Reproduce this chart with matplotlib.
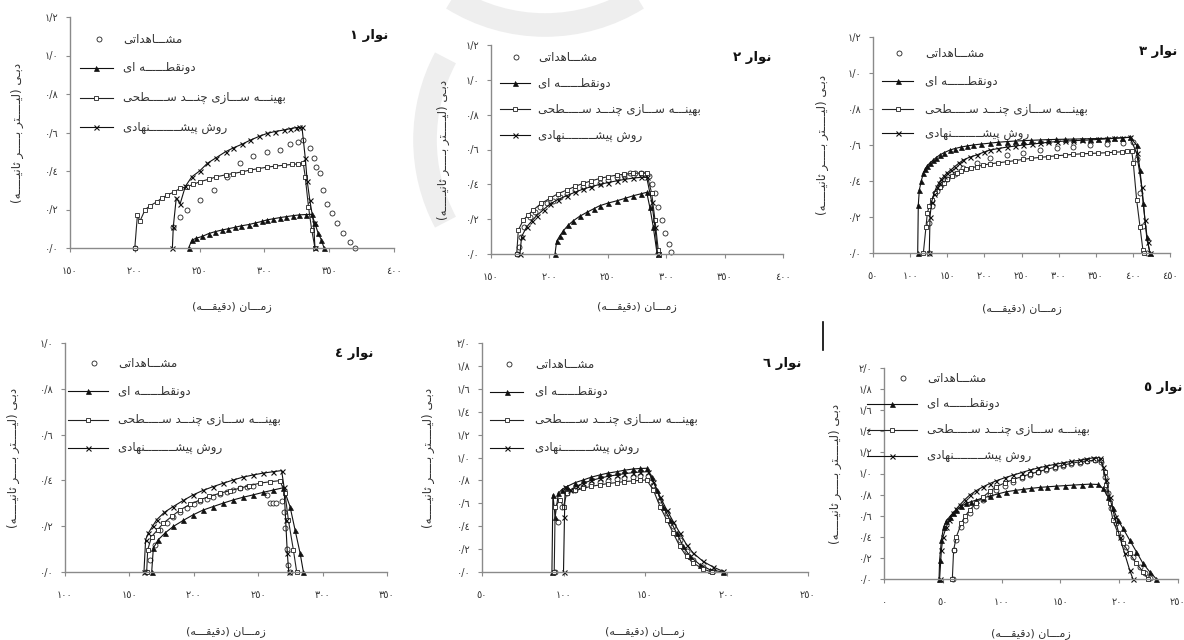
import matplotlib
matplotlib.use("Agg")
import matplotlib.pyplot as plt
from matplotlib.lines import Line2D
from matplotlib.patches import Arc
from matplotlib.transforms import IdentityTransform

plt.rcParams['font.family'] = ['DejaVu Sans']

W, H = 1184, 640

# ------------------ TEXT ------------------
legend_labels = ['مشـــاهداتی', 'دونقطــــــه ای', 'بهینـــه ســـازی چنـــد ســـــطحی', 'روش پیشـــــــــنهادی']
panel_titles = ['نوار ١', 'نوار ٢', 'نوار ٣', 'نوار ٤', 'نوار ٦', 'نوار ٥']
x_label = 'زمـــان (دقیقـــه)'
y_label = 'دبـی (لیـــــتر بـــــر ثانیـــــه)'

# ------------------ DATA (time in min, discharge in l/s) ------------------
# strip 1
p1_obs_x = [200, 229.7, 235, 240, 250, 261, 271, 281, 291.5, 302, 312, 320, 326, 330, 335, 338, 340, 343, 345.5, 348, 352, 356, 361, 366, 370]
p1_obs_y = [0, 0.11, 0.16, 0.20, 0.25, 0.30, 0.37, 0.44, 0.48, 0.50, 0.51, 0.54, 0.55, 0.56, 0.52, 0.47, 0.42, 0.39, 0.30, 0.23, 0.18, 0.13, 0.08, 0.03, 0.0]
p1_two_x = [241.5, 244, 247, 252, 257, 262, 267, 272, 277, 282, 288, 293, 298, 302, 307, 312, 317, 322, 327, 332, 336.5, 339, 341.5, 344, 346]
p1_two_y = [0, 0.04, 0.05, 0.06, 0.075, 0.085, 0.093, 0.10, 0.107, 0.115, 0.122, 0.13, 0.138, 0.146, 0.152, 0.158, 0.163, 0.168, 0.172, 0.174, 0.175, 0.128, 0.076, 0.042, 0]
p1_multi_x = [200, 202, 204, 208, 212, 217, 221, 225, 230, 235, 240, 245, 250, 257, 263, 270, 276, 283, 289, 295, 302, 308, 315, 321, 326, 330, 331.5, 334, 336.5, 339]
p1_multi_y = [0, 0.17, 0.14, 0.20, 0.22, 0.24, 0.26, 0.275, 0.29, 0.31, 0.318, 0.33, 0.344, 0.357, 0.37, 0.38, 0.387, 0.396, 0.405, 0.412, 0.42, 0.425, 0.43, 0.434, 0.437, 0.44, 0.37, 0.215, 0.094, 0]
p1_prop_x = [229, 229.7, 232, 235, 239, 244, 250, 256, 263, 270, 276, 283, 289, 296, 302, 308, 315, 320, 324, 327, 329, 331.5, 333, 335, 338, 339]
p1_prop_y = [0, 0.11, 0.26, 0.23, 0.32, 0.37, 0.40, 0.44, 0.47, 0.50, 0.52, 0.54, 0.56, 0.58, 0.595, 0.605, 0.613, 0.62, 0.625, 0.627, 0.627, 0.47, 0.35, 0.25, 0.13, 0]

# strip 2
p2_obs_x = [172, 174.3, 176, 178, 183, 188, 192, 198, 203, 209, 215, 222, 229, 236, 243, 250, 258, 264, 269, 273, 278, 282, 285, 287.5, 290, 293, 296, 299, 302, 304.5]
p2_obs_y = [0, 0.04, 0.10, 0.155, 0.21, 0.24, 0.267, 0.29, 0.306, 0.325, 0.345, 0.365, 0.383, 0.397, 0.41, 0.425, 0.44, 0.455, 0.467, 0.467, 0.467, 0.46, 0.45, 0.40, 0.35, 0.27, 0.195, 0.12, 0.06, 0.01]
p2_two_x = [204.8, 206.2, 209, 212, 216, 220.5, 226, 232, 238, 243, 250, 258, 265, 272, 278, 283.3, 286, 289, 291.8, 293.2]
p2_two_y = [0, 0.073, 0.105, 0.134, 0.165, 0.191, 0.217, 0.239, 0.26, 0.277, 0.292, 0.306, 0.32, 0.335, 0.345, 0.354, 0.268, 0.153, 0.02, 0]
p2_multi_x = [172, 173.4, 177.7, 182, 186.2, 193, 200.5, 207, 214.8, 222, 229, 236, 243.3, 250, 257.6, 264, 271.8, 278, 283.3, 287.6, 290.4, 293.2, 294]
p2_multi_y = [0, 0.138, 0.195, 0.225, 0.253, 0.29, 0.32, 0.345, 0.367, 0.388, 0.406, 0.42, 0.434, 0.444, 0.453, 0.458, 0.463, 0.465, 0.463, 0.348, 0.195, 0.023, 0]
p2_prop_x = [174.8, 176.2, 180.5, 185, 189, 195, 200.5, 207, 214.8, 222, 229, 236, 243.3, 250, 257.6, 264, 271.8, 278, 283.3, 287.6, 290.4, 292.6]
p2_prop_y = [0, 0.10, 0.155, 0.19, 0.22, 0.255, 0.287, 0.312, 0.335, 0.355, 0.373, 0.387, 0.40, 0.41, 0.42, 0.428, 0.436, 0.44, 0.44, 0.30, 0.155, 0]

# strip 3
p3_obs_x = [124.8, 125.8, 129, 135.8, 142, 149.3, 160, 171.6, 190, 207.6, 230, 252.5, 275, 297.4, 320, 342.3, 365, 387.2, 400.6, 405.1, 409.6, 414, 419.4]
p3_obs_y = [0, 0.167, 0.259, 0.343, 0.38, 0.41, 0.44, 0.47, 0.50, 0.526, 0.543, 0.557, 0.57, 0.581, 0.59, 0.60, 0.607, 0.613, 0.619, 0.52, 0.333, 0.148, 0]
p3_two_x = [110.2, 111, 112.4, 115, 117.8, 120, 123, 127, 131.3, 135, 140, 146, 153.7, 160, 168, 176, 185, 195, 207, 218, 230, 241, 252, 263, 275, 286, 297, 308, 320, 331, 342, 353, 365, 375, 385, 396, 405, 409.6, 414, 418.6, 423]
p3_two_y = [0, 0.267, 0.35, 0.40, 0.443, 0.466, 0.485, 0.502, 0.517, 0.53, 0.545, 0.558, 0.572, 0.58, 0.588, 0.594, 0.60, 0.605, 0.61, 0.615, 0.619, 0.622, 0.624, 0.626, 0.628, 0.63, 0.631, 0.632, 0.633, 0.634, 0.635, 0.636, 0.637, 0.638, 0.64, 0.643, 0.60, 0.461, 0.276, 0.09, 0]
p3_multi_x = [117.8, 121.4, 123.2, 126, 129, 134, 140.2, 145, 150, 156, 162.7, 169, 175, 182, 189.6, 198, 207, 218, 230, 241, 252, 263, 274.9, 286, 297, 308, 319.8, 331, 342, 353, 364.7, 375, 385, 392, 398.4, 400.6, 405.1, 409.6, 413.5, 414.6]
p3_multi_y = [0, 0.146, 0.224, 0.262, 0.294, 0.335, 0.369, 0.39, 0.41, 0.427, 0.443, 0.455, 0.465, 0.473, 0.48, 0.488, 0.495, 0.501, 0.507, 0.513, 0.52, 0.526, 0.531, 0.536, 0.54, 0.544, 0.548, 0.551, 0.553, 0.555, 0.557, 0.56, 0.562, 0.565, 0.567, 0.498, 0.294, 0.146, 0.017, 0]
p3_prop_x = [125.8, 126.8, 129, 132, 135.8, 139, 142, 146, 149.3, 155, 160, 166, 171.6, 180, 190, 199, 207.6, 218, 230, 241, 252.5, 264, 275, 286, 297.4, 309, 320, 331, 342.3, 353, 365, 375, 385, 396, 405, 412, 416.3, 420, 423]
p3_prop_y = [0, 0.202, 0.285, 0.33, 0.369, 0.39, 0.41, 0.428, 0.443, 0.462, 0.48, 0.5, 0.517, 0.532, 0.545, 0.56, 0.572, 0.58, 0.588, 0.594, 0.60, 0.605, 0.61, 0.615, 0.619, 0.622, 0.624, 0.626, 0.628, 0.631, 0.634, 0.637, 0.64, 0.643, 0.556, 0.369, 0.183, 0.06, 0]

# strip 4
p4_obs_x = [163, 166, 170, 173.8, 179, 184.1, 189, 194.5, 200, 204.8, 210, 215.1, 220, 225.5, 230.7, 235.9, 241, 246.2, 256.6, 259, 261.7, 264, 268.2, 270, 270.8, 272.1, 273.4, 274.7]
p4_obs_y = [0, 0.054, 0.12, 0.184, 0.215, 0.242, 0.262, 0.279, 0.295, 0.308, 0.32, 0.329, 0.34, 0.351, 0.358, 0.366, 0.372, 0.377, 0.337, 0.30, 0.30, 0.30, 0.31, 0.264, 0.19, 0.10, 0.03, 0]
p4_two_x = [167.3, 168.6, 172.4, 178, 184.1, 192, 199.6, 207, 215.1, 223, 230.7, 238, 246.2, 254, 261.7, 269.5, 274.7, 278.6, 282.5, 285.1]
p4_two_y = [0, 0.105, 0.141, 0.172, 0.199, 0.226, 0.25, 0.27, 0.286, 0.301, 0.315, 0.326, 0.337, 0.348, 0.358, 0.368, 0.286, 0.184, 0.083, 0]
p4_multi_x = [163.4, 164.2, 167.3, 172, 176.3, 183, 189.3, 197, 204.8, 212, 220.3, 228, 235.9, 243, 251.4, 259, 266.9, 270.8, 273.4, 277.3, 279.9]
p4_multi_y = [0, 0.097, 0.155, 0.185, 0.213, 0.243, 0.271, 0.295, 0.315, 0.33, 0.344, 0.355, 0.366, 0.377, 0.388, 0.394, 0.399, 0.344, 0.228, 0.097, 0]
p4_prop_x = [161.3, 162.6, 164.7, 168, 171.2, 177, 184.1, 192, 199.6, 207, 215.1, 223, 230.7, 238, 246.2, 254, 261.7, 268.2, 270, 271.3, 272.6, 273.7]
p4_prop_y = [0, 0.141, 0.17, 0.20, 0.228, 0.26, 0.286, 0.313, 0.337, 0.356, 0.373, 0.388, 0.402, 0.414, 0.424, 0.432, 0.438, 0.443, 0.373, 0.228, 0.083, 0]

# strip 6
p6_obs_x = [95, 96.9, 99, 102, 107, 112.2, 117, 122.4, 127, 132.6, 137, 142.8, 147, 152, 155.1, 159.2, 163.3, 167.3, 171.4, 175.5, 179.6, 185.7, 191.8]
p6_obs_y = [0, 0.441, 0.572, 0.688, 0.72, 0.746, 0.766, 0.784, 0.798, 0.81, 0.822, 0.833, 0.837, 0.84, 0.76, 0.63, 0.514, 0.398, 0.282, 0.18, 0.107, 0.044, 0.006]
p6_two_x = [92.9, 93.5, 94.9, 96.9, 99, 102, 107, 112.2, 117, 122.4, 127, 132.6, 137, 142.8, 147, 151, 154.1, 157.2, 161.2, 165.3, 169.4, 173.5, 177.6, 183.7, 189.8, 197.8]
p6_two_y = [0, 0.673, 0.484, 0.69, 0.72, 0.746, 0.78, 0.804, 0.828, 0.848, 0.863, 0.876, 0.888, 0.90, 0.904, 0.906, 0.833, 0.717, 0.572, 0.456, 0.34, 0.223, 0.136, 0.064, 0.02, 0]
p6_multi_x = [94.3, 94.9, 97.9, 100, 102, 107, 112.2, 117, 122.4, 127, 132.6, 137, 142.8, 147, 151, 155.1, 159.2, 163.3, 167.3, 171.4, 175.5, 179.6, 185.7, 190.8]
p6_multi_y = [0, 0.572, 0.63, 0.572, 0.688, 0.712, 0.732, 0.748, 0.761, 0.772, 0.781, 0.789, 0.796, 0.80, 0.804, 0.717, 0.572, 0.456, 0.34, 0.223, 0.136, 0.078, 0.026, 0]
p6_prop_x = [100, 100.6, 101, 104.1, 108, 112.2, 117, 122.4, 127, 132.6, 137, 142.8, 147, 152, 155.1, 159.2, 163.3, 167.3, 171.4, 175.5, 179.6, 185.7, 191.8, 197.9]
p6_prop_y = [0, 0.484, 0.746, 0.717, 0.75, 0.775, 0.80, 0.819, 0.835, 0.848, 0.858, 0.868, 0.873, 0.876, 0.79, 0.659, 0.543, 0.441, 0.34, 0.238, 0.165, 0.092, 0.044, 0.005]

# strip 5
p5_obs_x = [58.7, 59.5, 61.5, 65.8, 69, 72.8, 78.5, 84.2, 90, 95.5, 102.5, 109.7, 117, 123.9, 131, 138, 145, 152.2, 159, 166.4, 173, 179.1, 184.8, 187.6, 190.5, 193.3, 197.6, 201.8, 206.1, 211.7, 217.4, 221.7, 225.9]
p5_obs_y = [0, 0.274, 0.369, 0.495, 0.56, 0.621, 0.69, 0.748, 0.8, 0.842, 0.885, 0.921, 0.955, 0.984, 1.01, 1.032, 1.052, 1.07, 1.086, 1.101, 1.117, 1.132, 1.11, 0.968, 0.811, 0.669, 0.527, 0.4, 0.306, 0.211, 0.117, 0.054, 0.006]
p5_two_x = [46.8, 47.3, 48.8, 50.7, 53, 55.8, 58.5, 61.5, 65.5, 70, 74, 78.5, 84, 89.9, 97, 104, 111, 118.2, 125, 132.4, 139, 146.5, 153.5, 160.7, 168, 174.9, 182, 186.2, 190.5, 194.7, 199, 203.2, 208.9, 214.6, 220.2, 225.9, 231.6]
p5_two_y = [0, 0.18, 0.369, 0.495, 0.55, 0.59, 0.625, 0.653, 0.688, 0.716, 0.733, 0.748, 0.768, 0.785, 0.807, 0.827, 0.839, 0.849, 0.859, 0.868, 0.874, 0.88, 0.885, 0.89, 0.895, 0.899, 0.896, 0.858, 0.779, 0.669, 0.558, 0.48, 0.369, 0.259, 0.148, 0.069, 0]
p5_multi_x = [58.1, 59.2, 61.5, 65.8, 69, 72.8, 78.5, 84.2, 90, 95.5, 102.5, 109.7, 117, 123.9, 131, 138, 145, 152.2, 159, 166.4, 173, 179.1, 184.8, 187.6, 189, 191.9, 194.7, 199, 203.2, 208.9, 214.6, 220.2, 224.5]
p5_multi_y = [0, 0.274, 0.4, 0.527, 0.595, 0.653, 0.72, 0.779, 0.83, 0.874, 0.91, 0.943, 0.97, 0.994, 1.017, 1.038, 1.059, 1.079, 1.096, 1.111, 1.12, 1.126, 1.126, 1.016, 0.89, 0.716, 0.558, 0.432, 0.338, 0.243, 0.148, 0.069, 0]
p5_prop_x = [47.3, 48.8, 50.2, 53, 55.5, 58.7, 61.5, 64.3, 68.5, 72.8, 78.5, 84.2, 90, 95.5, 102.5, 109.7, 117, 123.9, 131, 138, 145, 152.2, 159, 166.4, 172, 177.7, 183.4, 186.2, 189, 191.9, 196.1, 200.4, 204.6, 208.9, 211.7]
p5_prop_y = [0, 0.274, 0.4, 0.495, 0.56, 0.621, 0.665, 0.70, 0.75, 0.795, 0.838, 0.874, 0.905, 0.931, 0.959, 0.984, 1.009, 1.032, 1.052, 1.07, 1.086, 1.101, 1.114, 1.126, 1.138, 1.148, 1.151, 1.063, 0.937, 0.779, 0.59, 0.4, 0.243, 0.085, 0]

# ------------------ persian text shaping (no bidi lib available) ------------------
FORMS = {  # isolated, final, initial, medial
    'ا': ('\uFE8D', '\uFE8E', None, None),
    'ب': ('\uFE8F', '\uFE90', '\uFE91', '\uFE92'),
    'پ': ('\uFB56', '\uFB57', '\uFB58', '\uFB59'),
    'ت': ('\uFE95', '\uFE96', '\uFE97', '\uFE98'),
    'ث': ('\uFE99', '\uFE9A', '\uFE9B', '\uFE9C'),
    'چ': ('\uFB7A', '\uFB7B', '\uFB7C', '\uFB7D'),
    'ح': ('\uFEA1', '\uFEA2', '\uFEA3', '\uFEA4'),
    'د': ('\uFEA9', '\uFEAA', None, None),
    'ر': ('\uFEAD', '\uFEAE', None, None),
    'ز': ('\uFEAF', '\uFEB0', None, None),
    'س': ('\uFEB1', '\uFEB2', '\uFEB3', '\uFEB4'),
    'ش': ('\uFEB5', '\uFEB6', '\uFEB7', '\uFEB8'),
    'ط': ('\uFEC1', '\uFEC2', '\uFEC3', '\uFEC4'),
    'ق': ('\uFED5', '\uFED6', '\uFED7', '\uFED8'),
    'ل': ('\uFEDD', '\uFEDE', '\uFEDF', '\uFEE0'),
    'م': ('\uFEE1', '\uFEE2', '\uFEE3', '\uFEE4'),
    'ن': ('\uFEE5', '\uFEE6', '\uFEE7', '\uFEE8'),
    'ه': ('\uFEE9', '\uFEEA', '\uFEEB', '\uFEEC'),
    'و': ('\uFEED', '\uFEEE', None, None),
    'ی': ('\uFEEF', '\uFEF0', '\uFEF3', '\uFEF4'),
}
TATWEEL = 'ـ'


def rtl(s):
    out = []
    for i, c in enumerate(s):
        if c not in FORMS:
            out.append(c)
            continue
        prev = s[i - 1] if i > 0 else ''
        nxt = s[i + 1] if i + 1 < len(s) else ''
        join_prev = prev == TATWEEL or (prev in FORMS and FORMS[prev][2] is not None)
        join_next = FORMS[c][2] is not None and (nxt == TATWEEL or nxt in FORMS)
        iso, fin, ini, med = FORMS[c]
        if join_prev and join_next:
            out.append(med)
        elif join_prev:
            out.append(fin)
        elif join_next:
            out.append(ini)
        else:
            out.append(iso)
    vis = ''.join(out)[::-1]
    return vis.translate(str.maketrans('()', ')('))


AR_DIGITS = str.maketrans('0123456789.', '٠١٢٣٤٥٦٧٨٩/')


def fa_num(v, dec):
    return (f"{v:.{dec}f}").translate(AR_DIGITS)


# ------------------ LAYOUT (pixels) ------------------
# left, top, right, bottom, xmin, xmax, ymax
boxes = [
    (70, 17, 394, 248, 150, 400, 1.2),
    (491, 45, 783, 254, 150, 400, 1.2),
    (873, 37, 1170, 253, 50, 450, 1.2),
    (65, 343, 387, 572, 100, 350, 1.0),
    (482, 343, 808, 572, 50, 250, 2.0),
    (884, 368, 1178, 579, 0, 250, 2.0),
]
# legend: line start, line end, text x, entry y's
legends = [
    (80, 113, 123, [39, 68, 98, 127]),
    (500, 530, 538, [57, 83, 109, 135]),
    (882, 913, 925, [53, 81, 109, 133]),
    (68, 108, 118, [363, 391, 420, 448]),
    (490, 523, 535, [364, 392, 420, 448]),
    (867, 917, 927, [378, 404, 430, 456]),
]
title_pos = [(388, 35), (771, 57), (1177, 52), (373, 353), (801, 363), (1182, 387)]
ylabel_x = [17, 443, 822, 13, 428, 835]
xlabel_y = [307, 307, 309, 632, 632, 634]

panels = [
    [(p1_obs_x, p1_obs_y), (p1_two_x, p1_two_y), (p1_multi_x, p1_multi_y), (p1_prop_x, p1_prop_y)],
    [(p2_obs_x, p2_obs_y), (p2_two_x, p2_two_y), (p2_multi_x, p2_multi_y), (p2_prop_x, p2_prop_y)],
    [(p3_obs_x, p3_obs_y), (p3_two_x, p3_two_y), (p3_multi_x, p3_multi_y), (p3_prop_x, p3_prop_y)],
    [(p4_obs_x, p4_obs_y), (p4_two_x, p4_two_y), (p4_multi_x, p4_multi_y), (p4_prop_x, p4_prop_y)],
    [(p6_obs_x, p6_obs_y), (p6_two_x, p6_two_y), (p6_multi_x, p6_multi_y), (p6_prop_x, p6_prop_y)],
    [(p5_obs_x, p5_obs_y), (p5_two_x, p5_two_y), (p5_multi_x, p5_multi_y), (p5_prop_x, p5_prop_y)],
]

styles = [
    dict(ls='none', marker='o', ms=3.6, mfc='white', mec='#222222', mew=0.6),
    dict(ls='-', lw=0.8, color='#111111', marker='^', ms=3.6, mfc='#111111', mec='#111111', mew=0.5),
    dict(ls='-', lw=0.8, color='#222222', marker='s', ms=3.4, mfc='white', mec='#222222', mew=0.6),
    dict(ls='-', lw=0.8, color='#111111', marker='x', ms=3.6, mec='#111111', mew=0.8),
]

AX_COLOR = '#8a8a8a'
TXT_COLOR = '#333333'

fig = plt.figure(figsize=(W / 100, H / 100), dpi=100)


def fx(px):
    return px / W


def fy(py):
    return 1 - py / H


# faint watermark pieces of the source page
for (cx, cy), rad, t1, t2 in [((600, 140), 175, 152, 208), ((545, -150), 175, 238, 302)]:
    fig.add_artist(Arc((cx, H - cy), 2 * rad, 2 * rad, theta1=t1, theta2=t2,
                       transform=IdentityTransform(), color='#eeeeee', lw=17, zorder=-5))

for k in range(6):
    l, t, r, b, x0, x1, ymax = boxes[k]
    ax = fig.add_axes([fx(l), fy(b), (r - l) / W, (b - t) / H])
    for (xs, ys), st in zip(panels[k], styles):
        ax.plot(xs, ys, clip_on=False, **st)
    ax.set_xlim(x0, x1)
    ax.set_ylim(0, ymax)
    xt = list(range(x0, x1 + 1, 50))
    yt = [i * 0.2 for i in range(int(round(ymax / 0.2)) + 1)]
    ax.set_xticks(xt)
    ax.set_xticklabels([fa_num(v, 0) for v in xt])
    ax.set_yticks(yt)
    ax.set_yticklabels([fa_num(v, 1) for v in yt])
    for s in ['top', 'right']:
        ax.spines[s].set_visible(False)
    for s in ['left', 'bottom']:
        ax.spines[s].set_color(AX_COLOR)
        ax.spines[s].set_linewidth(1.0)
    ax.tick_params(axis='x', direction='out', length=3, width=0.8, color=AX_COLOR,
                   labelsize=7, labelcolor=TXT_COLOR, pad=10)
    ax.tick_params(axis='y', direction='out', length=3, width=0.8, color=AX_COLOR,
                   labelsize=7, labelcolor=TXT_COLOR, pad=5)
    ax.patch.set_alpha(0)

    # legend drawn by hand: handle on the left, persian text on the right
    lx0, lx1, ltx, lys = legends[k]
    for lab, st, ly in zip(legend_labels, styles, lys):
        xm = (lx0 + lx1) / 2
        if st['ls'] == 'none':
            xm = lx1 - 14
            h = Line2D([fx(xm)], [fy(ly)], transform=fig.transFigure, **st)
        else:
            h = Line2D([fx(lx0), fx(xm), fx(lx1)], [fy(ly)] * 3, transform=fig.transFigure,
                       markevery=[1], **st)
        fig.add_artist(h)
        fig.text(fx(ltx), fy(ly), rtl(lab), ha='left', va='center', fontsize=8.5, color=TXT_COLOR)

    tx, ty = title_pos[k]
    fig.text(fx(tx), fy(ty), rtl(panel_titles[k]), ha='right', va='center', fontsize=9.5,
             fontweight='bold', color='#111111')
    fig.text(fx((l + r) / 2), fy(xlabel_y[k]), rtl(x_label), ha='center', va='center',
             fontsize=8, color=TXT_COLOR)
    fig.text(fx(ylabel_x[k]), fy((t + b) / 2), rtl(y_label), ha='center', va='center',
             rotation=90, fontsize=8.5, color=TXT_COLOR)

# stray separator line in the source image
fig.add_artist(Line2D([fx(823), fx(823)], [fy(322), fy(350)], transform=fig.transFigure,
                      color='black', lw=1.2))

fig.savefig('out.png', dpi=100)
